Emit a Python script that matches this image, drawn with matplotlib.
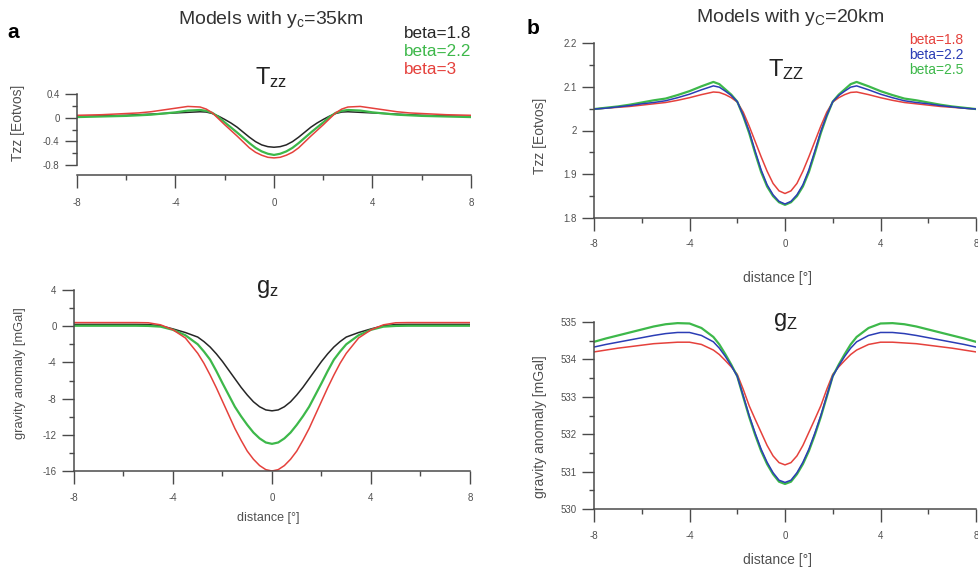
import matplotlib
matplotlib.use('Agg')
import matplotlib.pyplot as plt
from matplotlib.ticker import FixedLocator, FuncFormatter

plt.rcParams['font.family'] = ['Liberation Sans', 'DejaVu Sans']
plt.rcParams['mathtext.default'] = 'regular'
plt.rcParams['axes.unicode_minus'] = False

# distance [deg]
x = [-8, -7.5, -7, -6.5, -6, -5.5, -5, -4.5, -4, -3.5,
     -3, -2.75, -2.5, -2.25, -2, -1.75, -1.5, -1.25, -1, -0.75, -0.5, -0.25, 0,
     0.25, 0.5, 0.75, 1, 1.25, 1.5, 1.75, 2, 2.25, 2.5, 2.75, 3,
     3.5, 4, 4.5, 5, 5.5, 6, 6.5, 7, 7.5, 8]

# panel a, yc = 35 km
a_tzz_18 = [0.02, 0.025, 0.03, 0.035, 0.04, 0.05, 0.06, 0.07, 0.08, 0.09,
            0.10, 0.095, 0.07, 0.025, -0.03, -0.09, -0.16, -0.245, -0.33, -0.405, -0.46, -0.49, -0.50,
            -0.49, -0.46, -0.405, -0.33, -0.245, -0.16, -0.09, -0.03, 0.025, 0.07, 0.095, 0.10,
            0.09, 0.08, 0.07, 0.06, 0.05, 0.04, 0.035, 0.03, 0.025, 0.02]
a_tzz_22 = [0.01, 0.015, 0.02, 0.025, 0.03, 0.04, 0.05, 0.07, 0.09, 0.12,
            0.13, 0.115, 0.08, 0.01, -0.08, -0.165, -0.25, -0.34, -0.43, -0.51, -0.57, -0.61, -0.63,
            -0.61, -0.57, -0.51, -0.43, -0.34, -0.25, -0.165, -0.08, 0.01, 0.08, 0.115, 0.13,
            0.12, 0.09, 0.07, 0.05, 0.04, 0.03, 0.025, 0.02, 0.015, 0.01]
a_tzz_3 = [0.04, 0.045, 0.05, 0.06, 0.07, 0.08, 0.10, 0.13, 0.16, 0.19,
           0.18, 0.145, 0.08, -0.02, -0.12, -0.215, -0.31, -0.41, -0.51, -0.585, -0.635, -0.67, -0.68,
           -0.67, -0.635, -0.585, -0.51, -0.41, -0.31, -0.215, -0.12, -0.02, 0.08, 0.145, 0.18,
           0.19, 0.16, 0.13, 0.10, 0.08, 0.07, 0.06, 0.05, 0.045, 0.04]

a_gz_18 = [0.2, 0.2, 0.2, 0.2, 0.2, 0.2, 0.18, 0.05, -0.3, -0.7,
           -1.2, -1.7, -2.3, -3.05, -3.9, -4.85, -5.8, -6.75, -7.6, -8.35, -8.9, -9.25, -9.35,
           -9.25, -8.9, -8.35, -7.6, -6.75, -5.8, -4.85, -3.9, -3.05, -2.3, -1.7, -1.2,
           -0.7, -0.3, 0.05, 0.18, 0.2, 0.2, 0.2, 0.2, 0.2, 0.2]
a_gz_22 = [0.05, 0.05, 0.05, 0.05, 0.05, 0.05, 0.03, -0.05, -0.4, -1.0,
           -2.0, -2.8, -3.7, -4.95, -6.3, -7.6, -8.9, -9.95, -10.9, -11.75, -12.4, -12.85, -13.0,
           -12.85, -12.4, -11.75, -10.9, -9.95, -8.9, -7.6, -6.3, -4.95, -3.7, -2.8, -2.0,
           -1.0, -0.4, -0.05, 0.03, 0.05, 0.05, 0.05, 0.05, 0.05, 0.05]
a_gz_3 = [0.4, 0.4, 0.4, 0.4, 0.4, 0.4, 0.38, 0.15, -0.4, -1.3,
          -3.0, -4.1, -5.4, -6.8, -8.3, -9.8, -11.3, -12.6, -13.8, -14.7, -15.4, -15.85, -16.0,
          -15.85, -15.4, -14.7, -13.8, -12.6, -11.3, -9.8, -8.3, -6.8, -5.4, -4.1, -3.0,
          -1.3, -0.4, 0.15, 0.38, 0.4, 0.4, 0.4, 0.4, 0.4, 0.4]

# panel b, yc = 20 km
b_tzz_18 = [2.049, 2.051, 2.053, 2.055, 2.058, 2.061, 2.064, 2.069, 2.075, 2.082,
            2.088, 2.087, 2.082, 2.075, 2.065, 2.042, 2.010, 1.975, 1.940, 1.907, 1.879, 1.862, 1.856,
            1.862, 1.879, 1.907, 1.940, 1.975, 2.010, 2.042, 2.065, 2.075, 2.082, 2.087, 2.088,
            2.082, 2.075, 2.069, 2.064, 2.061, 2.058, 2.055, 2.053, 2.051, 2.049]
b_tzz_22 = [2.049, 2.051, 2.054, 2.057, 2.061, 2.064, 2.068, 2.075, 2.083, 2.093,
            2.102, 2.099, 2.090, 2.080, 2.066, 2.035, 1.998, 1.953, 1.910, 1.876, 1.853, 1.838, 1.832,
            1.838, 1.853, 1.876, 1.910, 1.953, 1.998, 2.035, 2.066, 2.080, 2.090, 2.099, 2.102,
            2.093, 2.083, 2.075, 2.068, 2.064, 2.061, 2.057, 2.054, 2.051, 2.049]
b_tzz_25 = [2.049, 2.052, 2.055, 2.059, 2.064, 2.069, 2.073, 2.081, 2.090, 2.101,
            2.111, 2.106, 2.094, 2.082, 2.066, 2.033, 1.994, 1.948, 1.905, 1.872, 1.850, 1.836, 1.830,
            1.836, 1.850, 1.872, 1.905, 1.948, 1.994, 2.033, 2.066, 2.082, 2.094, 2.106, 2.111,
            2.101, 2.090, 2.081, 2.073, 2.069, 2.064, 2.059, 2.055, 2.052, 2.049]

b_gz_18 = [534.20, 534.25, 534.30, 534.34, 534.38, 534.42, 534.44, 534.46, 534.46, 534.40,
           534.25, 534.13, 533.97, 533.80, 533.60, 533.20, 532.76, 532.40, 532.05, 531.70, 531.42, 531.24, 531.18,
           531.24, 531.42, 531.70, 532.05, 532.40, 532.76, 533.20, 533.60, 533.80, 533.97, 534.13, 534.25,
           534.40, 534.46, 534.46, 534.44, 534.42, 534.38, 534.34, 534.30, 534.25, 534.20]
b_gz_22 = [534.33, 534.40, 534.46, 534.52, 534.58, 534.64, 534.69, 534.72, 534.72, 534.64,
           534.47, 534.30, 534.08, 533.83, 533.55, 533.03, 532.50, 532.03, 531.60, 531.25, 530.97, 530.77, 530.71,
           530.77, 530.97, 531.25, 531.60, 532.03, 532.50, 533.03, 533.55, 533.83, 534.08, 534.30, 534.47,
           534.64, 534.72, 534.72, 534.69, 534.64, 534.58, 534.52, 534.46, 534.40, 534.33]
b_gz_25 = [534.47, 534.56, 534.64, 534.72, 534.80, 534.88, 534.94, 534.97, 534.96, 534.84,
           534.60, 534.40, 534.14, 533.86, 533.55, 533.00, 532.46, 531.98, 531.55, 531.20, 530.93, 530.73, 530.67,
           530.73, 530.93, 531.20, 531.55, 531.98, 532.46, 533.00, 533.55, 533.86, 534.14, 534.40, 534.60,
           534.84, 534.96, 534.97, 534.94, 534.88, 534.80, 534.72, 534.64, 534.56, 534.47]

RED = '#e5413c'
GREEN = '#3db84a'
BLACK = '#262626'
BLUE = '#2b3db5'
AX = '#4a4a4a'
TXT = '#505050'

W, H = 979, 569
fig = plt.figure(figsize=(W / 100, H / 100), dpi=100)


def px_axes(l, t, r, b):
    return fig.add_axes([l / W, 1 - b / H, (r - l) / W, (b - t) / H])


def style(ax, ymaj, ymin, xpad, ypad=3.5):
    ax.set_xlim(-8, 8)
    for s in ('top', 'right'):
        ax.spines[s].set_visible(False)
    for s in ('left', 'bottom'):
        ax.spines[s].set_color(AX)
        ax.spines[s].set_linewidth(1.1)
    ax.xaxis.set_major_locator(FixedLocator([-8, -4, 0, 4, 8]))
    ax.xaxis.set_minor_locator(FixedLocator([-6, -2, 2, 6]))
    ax.yaxis.set_major_locator(FixedLocator(ymaj))
    ax.yaxis.set_minor_locator(FixedLocator(ymin))
    fmt = FuncFormatter(lambda v, p: '%g' % v)
    ax.xaxis.set_major_formatter(fmt)
    ax.yaxis.set_major_formatter(fmt)
    ax.tick_params(which='major', length=9, width=1.0, color=AX, labelsize=7, labelcolor=TXT)
    ax.tick_params(which='minor', length=3.6, width=1.0, color=AX)
    ax.tick_params(axis='x', which='major', pad=xpad)
    ax.tick_params(axis='y', which='major', pad=ypad)
    ax.patch.set_alpha(0)


# ---- a: Tzz
ax1 = px_axes(77, 94, 471, 165)
ax1.plot(x, a_tzz_18, color=BLACK, lw=1.1)
ax1.plot(x, a_tzz_22, color=GREEN, lw=1.6)
ax1.plot(x, a_tzz_3, color=RED, lw=1.1)
ax1.set_ylim(-0.8, 0.4)
style(ax1, [0.4, 0, -0.4, -0.8], [0.2, -0.2, -0.6], xpad=7.5)
ax1.spines['bottom'].set_position(('outward', 7.2))
ax1.set_ylabel('Tzz [Eotvos]', fontsize=10, color=TXT)
ax1.yaxis.set_label_coords(-0.132, 0.6)

# ---- a: gz
ax2 = px_axes(74, 290, 470, 471)
ax2.plot(x, a_gz_18, color=BLACK, lw=1.1)
ax2.plot(x, a_gz_22, color=GREEN, lw=1.6)
ax2.plot(x, a_gz_3, color=RED, lw=1.1)
ax2.set_ylim(-16, 4)
style(ax2, [4, 0, -4, -8, -12, -16], [2, -2, -6, -10, -14], xpad=6.5)
ax2.set_ylabel('gravity anomaly [mGal]', fontsize=9.3, color=TXT)
ax2.yaxis.set_label_coords(-0.121, 0.54)
ax2.set_xlabel('distance [°]', fontsize=9, color=TXT)
ax2.xaxis.set_label_coords(0.49, -0.225)

# ---- b: Tzz
ax3 = px_axes(594, 43, 976, 218)
ax3.plot(x, b_tzz_18, color=RED, lw=1.1)
ax3.plot(x, b_tzz_25, color=GREEN, lw=1.6)
ax3.plot(x, b_tzz_22, color=BLUE, lw=1.1)
ax3.set_ylim(1.8, 2.2)
style(ax3, [2.2, 2.1, 2.0, 1.9, 1.8], [2.15, 2.05, 1.95, 1.85], xpad=6)
ax3.set_ylabel('Tzz [Eotvos]', fontsize=10, color=TXT)
ax3.yaxis.set_label_coords(-0.123, 0.47)
ax3.set_xlabel('distance [°]', fontsize=10, color=TXT)
ax3.xaxis.set_label_coords(0.48, -0.305)

# ---- b: gz
ax4 = px_axes(594, 322, 976, 509)
ax4.plot(x, b_gz_18, color=RED, lw=1.1)
ax4.plot(x, b_gz_25, color=GREEN, lw=1.6)
ax4.plot(x, b_gz_22, color=BLUE, lw=1.1)
ax4.set_ylim(530, 535)
style(ax4, [535, 534, 533, 532, 531, 530], [534.5, 533.5, 532.5, 531.5, 530.5], xpad=6.5)
ax4.set_ylabel('gravity anomaly [mGal]', fontsize=10, color=TXT)
ax4.yaxis.set_label_coords(-0.123, 0.44)
ax4.set_xlabel('distance [°]', fontsize=10, color=TXT)
ax4.xaxis.set_label_coords(0.48, -0.235)


def ftext(px, py, s, **kw):
    fig.text(px / W, 1 - py / H, s, **kw)


# titles and labels
ftext(271, 19, 'Models with y$_c$=35km', fontsize=14, color='#333333', ha='center', va='center')
ftext(790, 18, 'Models with y$_C$=20km', fontsize=14, color='#333333', ha='center', va='center')
ftext(13, 33, 'a', fontsize=15, fontweight='bold', ha='center', va='center')
ftext(533, 29, 'b', fontsize=15, fontweight='bold', ha='center', va='center')

ftext(271, 78, 'T$_{zz}$', fontsize=17, color='#222222', ha='center', va='center')
ftext(267, 289, 'g$_z$', fontsize=17, color='#222222', ha='center', va='center')
ftext(786, 70, 'T$_{ZZ}$', fontsize=17, color='#222222', ha='center', va='center')
ftext(785, 322, 'g$_Z$', fontsize=17, color='#222222', ha='center', va='center')

# legends
legend_a = [('beta=1.8', BLACK), ('beta=2.2', GREEN), ('beta=3', RED)]
for i, (lab, c) in enumerate(legend_a):
    ftext(404, 33 + i * 18.5, lab, fontsize=12.3, color=c, ha='left', va='center')
legend_b = [('beta=1.8', RED), ('beta=2.2', BLUE), ('beta=2.5', GREEN)]
for i, (lab, c) in enumerate(legend_b):
    ftext(909, 40 + i * 15, lab, fontsize=10, color=c, ha='left', va='center')

fig.savefig('out.png', dpi=100)
